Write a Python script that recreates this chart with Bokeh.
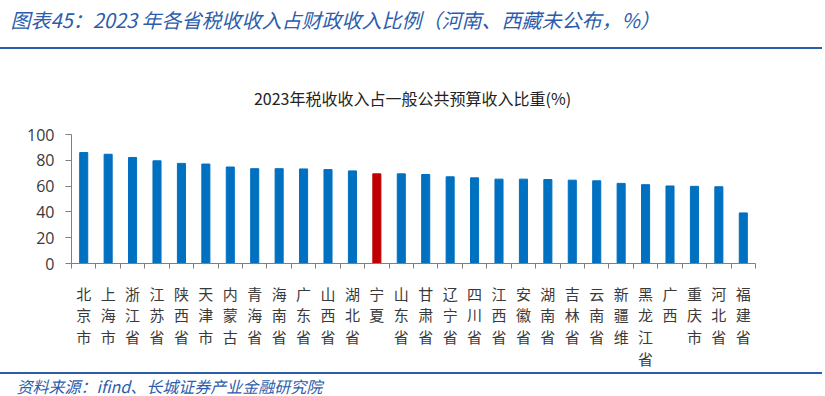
from bokeh.plotting import figure
from bokeh.models import ColumnDataSource, Range1d, FixedTicker, Div
from bokeh.layouts import column
from bokeh.core.properties import value
from bokeh.embed import file_html
from bokeh.resources import INLINE

provinces = ["北京市", "上海市", "浙江省", "江苏省", "陕西省", "天津市", "内蒙古", "青海省",
             "海南省", "广东省", "山西省", "湖北省", "宁夏", "山东省", "甘肃省", "辽宁省",
             "四川省", "江西省", "安徽省", "湖南省", "吉林省", "云南省", "新疆维", "黑龙江省",
             "广西", "重庆市", "河北省", "福建省"]
values = [86.0, 84.7, 82.2, 79.6, 77.6, 77.1, 74.8, 73.5, 73.5, 73.3, 72.8, 71.8, 69.5, 69.5,
          69.0, 67.2, 66.4, 65.4, 65.4, 65.1, 64.6, 64.1, 62.1, 61.1, 60.1, 59.8, 59.5, 39.2]
highlight = "宁夏"
y_ticks = [0, 20, 40, 60, 80, 100]

header = "图表45：2023 年各省税收收入占财政收入比例（河南、西藏未公布，%）"
chart_title = "2023年税收收入占一般公共预算收入比重(%)"
source_note = "资料来源：ifind、长城证券产业金融研究院"

BLUE = "#0070C0"
RED = "#C00000"
HEAD = "#2C5DAD"
FONT = "Noto Sans CJK SC"
TXT = "#3a3a3a"
W = 825


def blank_fig(h, w=W):
    f = figure(width=w, height=h, output_backend="svg", toolbar_location=None,
               x_range=Range1d(0, w), y_range=Range1d(h, 0),
               x_axis_location=None, y_axis_location=None,
               min_border=0, min_border_left=0, min_border_right=0,
               min_border_top=0, min_border_bottom=0, frame_align=False)
    f.outline_line_color = None
    f.xgrid.visible = False
    f.ygrid.visible = False
    f.border_fill_color = "white"
    f.background_fill_color = "white"
    return f


def rule_div():
    return Div(text="", width=822, height=2, margin=(0, 0, 0, 0),
               styles={"background-color": HEAD, "padding": "0px", "margin": "0px"})


# ---- header title (page y 0-47)
h1 = blank_fig(47)
h1.text(x=[10], y=[19], text=[header], text_font=value(FONT), text_font_style="italic",
        text_font_size="20px", text_color=HEAD, text_baseline="middle", text_align="left")

# ---- header rule (page y 47-49)
rule1 = rule_div()

# ---- chart title (page y 49-110)
h2 = blank_fig(61)
h2.text(x=[412], y=[48], text=[chart_title], text_font=value(FONT),
        text_font_size="16px", text_color="#222222", text_baseline="middle", text_align="center")

# ---- main chart (page y 110-372)
MH = 262
FL, FT, FW, FH = 71, 24, 684, 131
n = len(provinces)
xs = list(range(n))
colors = [RED if p == highlight else BLUE for p in provinces]
src = ColumnDataSource(dict(x=xs, top=values, color=colors))

p = figure(width=W, height=MH, output_backend="svg", toolbar_location=None,
           x_range=Range1d(-0.5, n - 0.5), y_range=Range1d(0, 100),
           min_border_left=FL, min_border_top=FT,
           min_border_right=W - FL - FW, min_border_bottom=MH - FT - FH,
           frame_align=False)
p.outline_line_color = None
p.xgrid.visible = False
p.ygrid.visible = False
p.background_fill_color = "white"
p.border_fill_color = "white"

p.vbar(x="x", top="top", width=0.33, color="color", source=src)

xa = p.xaxis[0]
xa.ticker = FixedTicker(ticks=xs, minor_ticks=[i - 0.5 for i in range(n + 1)])
xa.major_label_overrides = {i: "\n".join(list(name)) for i, name in enumerate(provinces)}
xa.major_tick_out = 0
xa.major_tick_in = 0
xa.minor_tick_out = 5
xa.minor_tick_in = 0
xa.minor_tick_line_color = "#7f7f7f"
xa.axis_line_color = "#7f7f7f"
xa.major_label_text_font = FONT
xa.major_label_text_font_size = "15px"
xa.major_label_text_color = TXT
xa.major_label_text_line_height = 1.04
xa.major_label_standoff = 14
xa.major_label_orientation = "horizontal"

ya = p.yaxis[0]
ya.ticker = FixedTicker(ticks=y_ticks)
ya.major_tick_out = 6
ya.major_tick_in = 0
ya.minor_tick_out = 0
ya.minor_tick_in = 0
ya.major_tick_line_color = "#7f7f7f"
ya.axis_line_color = "#7f7f7f"
ya.major_label_text_font = "Open Sans"
ya.major_label_text_font_size = "16px"
ya.major_label_text_color = TXT
ya.major_label_standoff = 11

# ---- footer rule (page y 372-374) and source (374-396)
rule2 = rule_div()
foot = blank_fig(22)
foot.text(x=[16], y=[11], text=[source_note], text_font=value(FONT), text_font_style="italic",
          text_font_size="16px", text_color=HEAD, text_baseline="middle", text_align="left")

layout = column(h1, rule1, h2, p, rule2, foot, spacing=0)
open("out.html", "w").write(file_html(layout, INLINE))
